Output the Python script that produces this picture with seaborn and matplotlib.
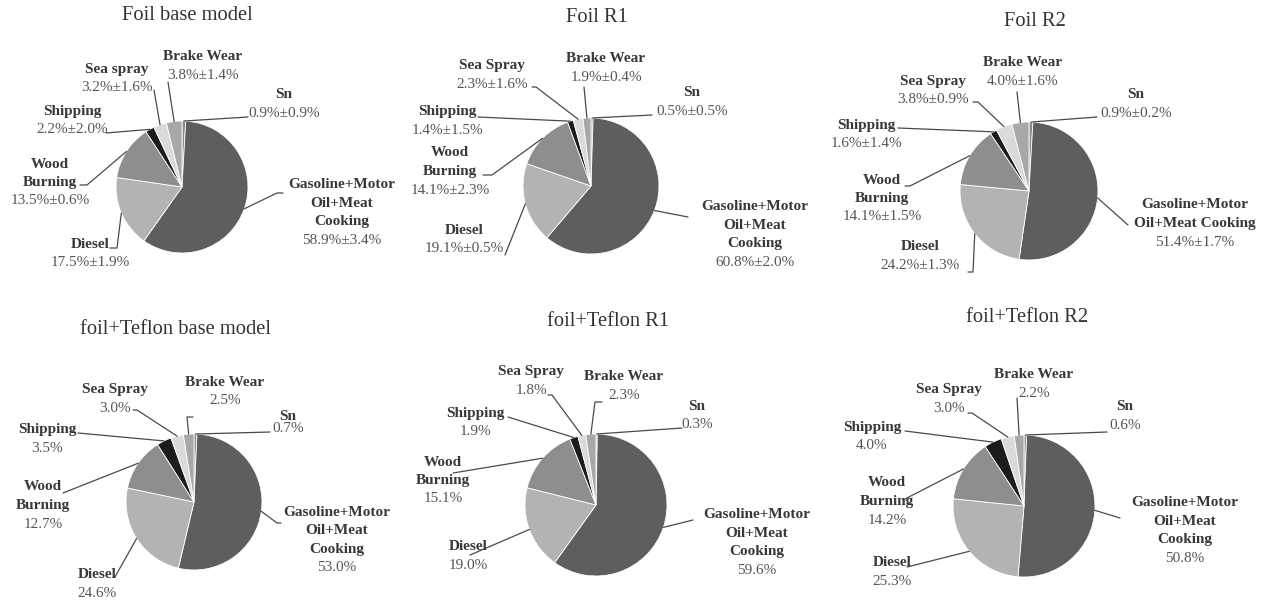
import numpy as np
import matplotlib
matplotlib.use("Agg")
import matplotlib.pyplot as plt
import seaborn as sns

# source categories, clockwise from 12 o'clock
sources = ["Sn", "Gasoline+Motor Oil+Meat Cooking", "Diesel", "Wood Burning",
           "Shipping", "Sea Spray", "Brake Wear"]

titles = ["Foil base model", "Foil R1", "Foil R2",
          "foil+Teflon base model", "foil+Teflon R1", "foil+Teflon R2"]

# contributions (%) and uncertainties (%)
foil_base = [0.9, 58.9, 17.5, 13.5, 2.2, 3.2, 3.8]
foil_base_err = [0.9, 3.4, 1.9, 0.6, 2.0, 1.6, 1.4]
foil_r1 = [0.5, 60.8, 19.1, 14.1, 1.4, 2.3, 1.9]
foil_r1_err = [0.5, 2.0, 0.5, 2.3, 1.5, 1.6, 0.4]
foil_r2 = [0.9, 51.4, 24.2, 14.1, 1.6, 3.8, 4.0]
foil_r2_err = [0.2, 1.7, 1.3, 1.5, 1.4, 0.9, 1.6]
teflon_base = [0.7, 53.0, 24.6, 12.7, 3.5, 3.0, 2.5]
teflon_r1 = [0.3, 59.6, 19.0, 15.1, 1.9, 1.8, 2.3]
teflon_r2 = [0.6, 50.8, 25.3, 14.2, 4.0, 3.0, 2.2]

values = [foil_base, foil_r1, foil_r2, teflon_base, teflon_r1, teflon_r2]
errors = [foil_base_err, foil_r1_err, foil_r2_err, None, None, None]

colors = ["#8a8a8a", "#5e5e5e", "#b3b3b3", "#8e8e8e", "#1c1c1c", "#dadada", "#a8a8a8"]

# how the label of each source is broken into lines
label_lines = {
    "Sn": ["Sn"],
    "Gasoline+Motor Oil+Meat Cooking": ["Gasoline+Motor", "Oil+Meat", "Cooking"],
    "Diesel": ["Diesel"],
    "Wood Burning": ["Wood", "Burning"],
    "Shipping": ["Shipping"],
    "Sea Spray": ["Sea Spray"],
    "Brake Wear": ["Brake Wear"],
}

W, H = 1272, 602

# layout in pixel coordinates (y down): pie centre + radius, title position,
# per source: label centre (first line) and leader points from pie outward
layout = [
    dict(c=(182, 187), r=66, t=(187, 16),
         lab=[((284, 95), [(248, 117)]),
              ((342, 185), [(277, 193), (283, 193)]),
              ((90, 244), [(117, 248), (110, 248)]),
              ((50, 164), [(87, 185), (80, 185)]),
              ((72, 111), [(106, 133)]),
              ((117, 69), [(154, 90)]),
              ((203, 57), [(168, 82)])]),
    dict(c=(591, 186), r=68, t=(597, 17),
         lab=[((692, 93), [(652, 115)]),
              ((755, 207), [(688, 217)]),
              ((464, 230), [(505, 255)]),
              ((450, 153), [(492, 175), (483, 175)]),
              ((447, 112), [(478, 117)]),
              ((492, 66), [(536, 87), (532, 87)]),
              ((606, 59), [(584, 87)])]),
    dict(c=(1029, 191), r=69, t=(1035, 22),
         lab=[((1136, 95), [(1097, 117)]),
              ((1195, 205), [(1128, 225)]),
              ((920, 247), [(973, 272), (968, 272)]),
              ((882, 180), [(910, 186), (905, 186)]),
              ((866, 125), [(898, 128)]),
              ((933, 81), [(978, 102), (973, 102)]),
              ((1023, 63), [(1017, 92)])]),
    dict(c=(194, 502), r=68, t=(175, 330),
         lab=[((288, 417), [(270, 432)]),
              ((337, 512), [(277, 523), (281, 523)]),
              ((97, 575), [(115, 577)]),
              ((43, 487), [(63, 493)]),
              ((47, 430), [(78, 433)]),
              ((115, 390), [(137, 410), (133, 410)]),
              ((225, 382), [(187, 417), (193, 417)])]),
    dict(c=(596, 505), r=71, t=(608, 322),
         lab=[((697, 406), [(682, 428)]),
              ((757, 515), [(693, 520)]),
              ((468, 547), [(470, 555)]),
              ((443, 462), [(453, 473)]),
              ((475, 413), [(508, 417)]),
              ((531, 372), [(552, 395), (548, 395)]),
              ((624, 377), [(595, 402), (602, 402)])]),
    dict(c=(1024, 506), r=71, t=(1027, 318),
         lab=[((1125, 407), [(1107, 432)]),
              ((1185, 503), [(1120, 518)]),
              ((892, 563), [(907, 567)]),
              ((887, 483), [(903, 500)]),
              ((872, 427), [(905, 431)]),
              ((949, 390), [(972, 413), (968, 413)]),
              ((1034, 375), [(1017, 398)])]),
]

sns.set_theme(style="white")
plt.rcParams['font.family'] = ['Liberation Serif', 'DejaVu Serif']

fig = plt.figure(figsize=(W / 100, H / 100), dpi=100)
ax = fig.add_axes([0, 0, 1, 1])

LS = 18.5
name_color = "#383838"
val_color = "#555555"
line_color = "#4a4a4a"

for k, (vals, errs, lay, title) in enumerate(zip(values, errors, layout, titles)):
    cx, cy = lay["c"]
    r = lay["r"]
    wedges, _ = ax.pie(vals, colors=colors, startangle=90, counterclock=False,
                       center=(cx, H - cy), radius=r,
                       wedgeprops=dict(edgecolor="white", linewidth=0.6))
    ax.text(lay["t"][0], H - lay["t"][1], title, ha="center", va="center",
            fontsize=14.8, color="#333333")

    for i, src in enumerate(sources):
        lines = list(label_lines[src])
        if k == 0 and src == "Sea Spray":
            lines = ["Sea spray"]
        if k == 2 and src.startswith("Gasoline"):
            lines = ["Gasoline+Motor", "Oil+Meat Cooking"]
        if errs is not None:
            val_txt = f"{vals[i]:.1f}%±{errs[i]:.1f}%"
        else:
            val_txt = f"{vals[i]:.1f}%"
        (tx, ty), pts = lay["lab"][i]
        ls = 12 if (k == 3 and src == "Sn") else LS
        for j, ln in enumerate(lines):
            ax.text(tx, H - (ty + j * ls), ln, ha="center", va="center",
                    fontsize=11, fontweight="bold", color=name_color)
        ax.text(tx, H - (ty + len(lines) * ls), val_txt, ha="center", va="center",
                fontsize=11, color=val_color)

        # leader line from the wedge edge at its mid angle
        w = wedges[i]
        ang = np.deg2rad((w.theta1 + w.theta2) / 2)
        x0 = cx + r * np.cos(ang)
        y0 = (H - cy) + r * np.sin(ang)
        xs = [x0] + [p[0] for p in pts]
        ys = [y0] + [H - p[1] for p in pts]
        ax.plot(xs, ys, color=line_color, lw=0.9)

ax.set_xlim(0, W)
ax.set_ylim(0, H)
ax.set_aspect("equal")
ax.axis("off")

fig.savefig("out.png", dpi=100, facecolor="white")
plt.close(fig)
